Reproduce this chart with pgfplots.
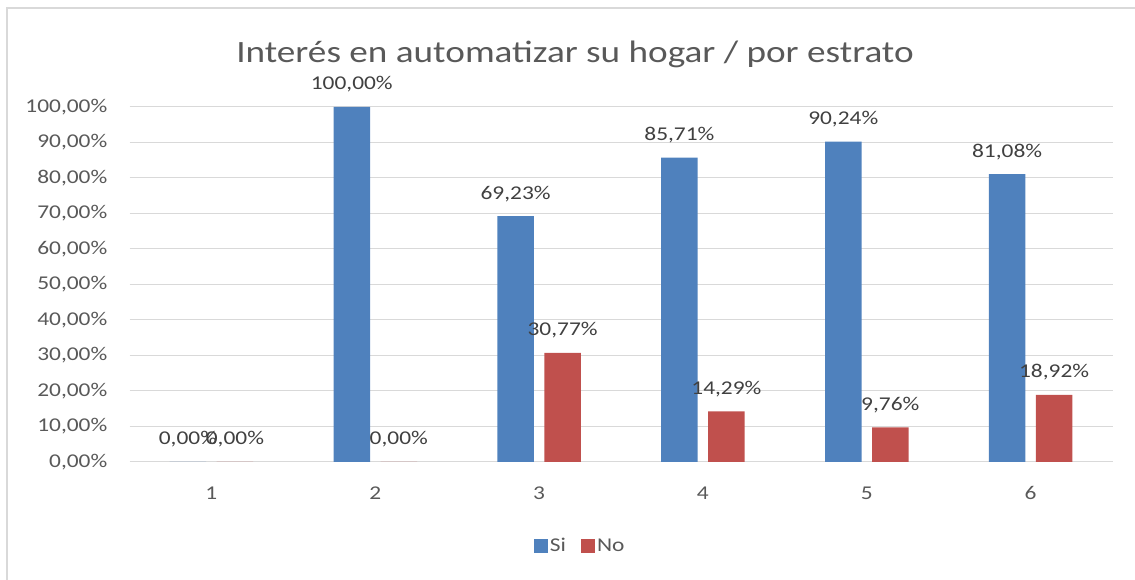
\documentclass[border=0pt]{standalone}
\usepackage{pgfplots}
\pgfplotsset{compat=1.18}
\usepackage{fontspec}
\setmainfont{Carlito}[FakeStretch=1.2]
\definecolor{siblue}{HTML}{4F81BD}
\definecolor{nored}{HTML}{C0504D}
\definecolor{txt}{HTML}{595959}
\definecolor{lbl}{HTML}{404040}
\definecolor{gridc}{HTML}{D9D9D9}
\begin{document}
\begin{tikzpicture}
\path[use as bounding box] (0pt,0pt) rectangle (1135pt,580pt);
\draw[gridc, line width=1.2pt] (7pt,0pt) -- (7pt,572pt) -- (1135pt,572pt);
\node[text=txt, font=\fontsize{31}{36}\selectfont, anchor=base, inner sep=0pt] at (575pt,517pt) {Interés en automatizar su hogar / por estrato};
\begin{axis}[
  at={(129.5pt,118pt)}, anchor=south west,
  scale only axis, width=983pt, height=355pt,
  xmin=0.5, xmax=6.5, ymin=0, ymax=100,
  clip=false,
  axis line style={draw=none},
  major tick length=0pt,
  ymajorgrids, grid style={gridc, line width=1pt},
  xtick={1,2,3,4,5,6},
  ytick={0,10,...,100},
  /pgf/number format/assume math mode=true,
  yticklabel={\pgfmathprintnumber[fixed,fixed zerofill,precision=2,use comma]{\tick}\%},
  yticklabel style={font=\fontsize{19.5}{22}\selectfont, text=txt, anchor=east, inner sep=0pt, xshift=-22pt},
  xticklabel style={font=\fontsize{19.5}{22}\selectfont, text=txt, anchor=base, inner sep=0pt, yshift=-38pt},
  point meta=y,
  nodes near coords={\pgfmathprintnumber[fixed,fixed zerofill,precision=2,use comma]{\pgfplotspointmeta}\%},
  every node near coord/.append style={font=\fontsize{19.5}{22}\selectfont, text=lbl, anchor=base, inner sep=0pt, yshift=17pt},
  legend style={at={(0.4585,-0.2366)}, anchor=center, draw=none, fill=none, legend columns=2,
    font=\fontsize{19.5}{22}\selectfont, text=txt, inner sep=0pt,
    /tikz/every odd column/.append style={column sep=0pt},
    /tikz/every even column/.append style={column sep=13pt}},
]
\addplot[ybar, bar width=36.5pt, bar shift=-23.5pt, fill=siblue, draw=none,
  every node near coord/.append style={xshift=-23.5pt},
  legend image code/.code={\fill[siblue] (0pt,-7pt) rectangle (14pt,7pt);}]
  coordinates {(1,0) (2,100) (3,69.23) (4,85.71) (5,90.24) (6,81.08)};
\addlegendentry{Si}
\addplot[ybar, bar width=36.5pt, bar shift=23.5pt, fill=nored, draw=none,
  every node near coord/.append style={xshift=23.5pt},
  legend image code/.code={\fill[nored] (0pt,-7pt) rectangle (14pt,7pt);}]
  coordinates {(1,0) (2,0) (3,30.77) (4,14.29) (5,9.76) (6,18.92)};
\addlegendentry{No}
\end{axis}
\end{tikzpicture}
\end{document}
